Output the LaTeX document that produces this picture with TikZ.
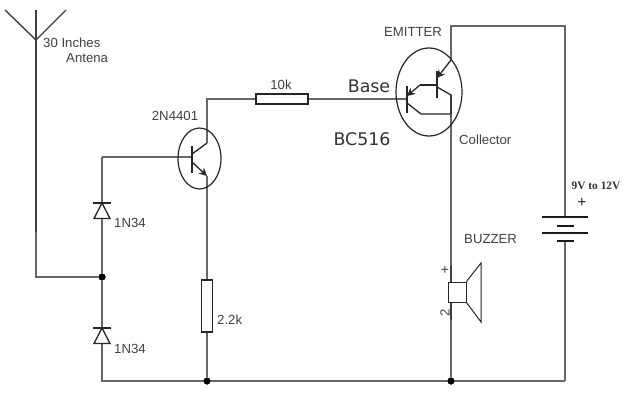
\documentclass[tikz,border=0pt]{standalone}
\usepackage{fontspec}
\setmainfont{Liberation Sans}
\newfontfamily\labelfont{DejaVu Sans}
\newfontfamily\serifbold{Liberation Serif}
\usetikzlibrary{arrows.meta,shapes.geometric}
\newcommand{\diodesym}[1]{%
  \draw[part,fill=white] (#1) -- ++(-8,15.5) -- ++(16,0) -- cycle;
  \draw[part] (#1) ++(-9,0) -- ++(18,0);
}
\newcommand{\platesym}[2]{%
  \draw[plate] (565-#2,#1) -- (565+#2,#1);
}
\begin{document}
\begin{tikzpicture}[
      x=1pt,y=-1pt,
      wire/.style={draw=black!60,line width=2.8pt},
      thinwire/.style={draw=black!75,line width=1.4pt},
      part/.style={draw=black!85,line width=1.3pt},
      plate/.style={draw=black!90,line width=2.8pt},
      can/.style={draw=black!85,line width=1.2pt,ellipse},
      txt/.style={inner sep=0pt,font=\fontsize{13.2}{15}\selectfont,text=black!75},
      big/.style={inner sep=0pt,font=\labelfont\fontsize{17.4}{19}\selectfont,text=black!80},
      rbox/.style={draw=black!85,line width=1.2pt,fill=white,inner sep=0pt},
      dot/.style={circle,fill=black,inner sep=0pt,minimum size=7pt},
      tip/.style={-{Stealth[length=8pt,width=8pt,fill=black!35]}}
    ]
      \useasboundingbox (0,0) rectangle (628,409);

      % Junctions and corners of the wiring
      \coordinate (antfoot) at (36,40);
      \coordinate (antbend) at (36,232);
      \coordinate (antend) at (36,277);
      \node[dot] (jdiode) at (102,277) {};
      \node[dot] (jres) at (207,381) {};
      \node[dot] (jspk) at (451,381) {};
      \coordinate (cleft) at (102,381);
      \coordinate (cright) at (565,381);
      \coordinate (topleft) at (102,157);
      \coordinate (basetwo) at (192,157);
      \coordinate (colltwo) at (207,99);
      \coordinate (emtop) at (451,26);
      \coordinate (battop) at (565,26);

      % Main wires
      \draw[thinwire] (36,10) -- (antbend);
      \draw[thinwire] (5,10) -- (antfoot) -- (66,10);
      \draw[wire] (antbend) -- (antend) -- (jdiode);
      \draw[wire] (topleft) -- (basetwo);
      \draw[wire] (topleft) -- (jdiode) -- (cleft) -- (cright);
      \draw[wire] (207,143) -- (colltwo) -- (282,99) -- (407,99);
      \draw[wire] (207,176) -- (jres);
      \draw[wire] (451,60) -- (emtop) -- (battop) -- (565,217);
      \draw[wire] (565,241) -- (cright);
      \draw[wire] (451,95) -- (451,266);
      \draw[wire] (451,320) -- (jspk);
      \draw[thinwire] (451,266) -- (451,282);
      \draw[thinwire] (451,302) -- (451,320);

      % Parts that are boxes, they sit on the wires so come after them
      \node[rbox,minimum width=52pt,minimum height=10pt] (rten) at (282,99) {};
      \node[rbox,minimum width=11pt,minimum height=52pt] (rtwo) at (207,306) {};
      \node[rbox,line width=0.9pt,minimum width=18pt,minimum height=20pt] (spkbox) at (457,292) {};
      \node[dot] at (jdiode) {};
      \node[dot] at (jres) {};
      \node[dot] at (jspk) {};

      % Diodes
      \diodesym{102,203}
      \diodesym{102,328}

      % Speaker cone
      \draw[part,line width=1pt] (spkbox.north east) -- (481,263) -- (481,322) -- (spkbox.south east);

      % Battery plates
      \platesym{217}{23}
      \platesym{226}{8.5}
      \platesym{233}{23}
      \platesym{241}{8.5}

      % 2N4401
      \node[can,minimum width=43pt,minimum height=61pt] (qone) at (199.5,158.5) {};
      \draw[part,line width=1.8pt] (192,146) -- (192,173);
      \draw[part] (192,154) -- (207,143);
      \draw[part,tip] (192,162) -- (207,176);

      % BC516
      \node[can,minimum width=66pt,minimum height=88pt] (qtwo) at (429,92) {};
      \draw[part,line width=1.8pt] (437,71) -- (437,98);
      \draw[part,line width=1.8pt] (407,86) -- (407,113);
      \draw[part,tip] (451,60) -- (437,78);
      \draw[part] (437,87) -- (451,95) -- (451,114);
      \draw[part,tip] (420,85) -- (407,96);
      \draw[part] (420,85) -- (437,85);
      \draw[part] (407,103) -- (421,114) -- (451,114);

      % Labels
      \node[txt,anchor=west] (lant) at (43,43) {30 Inches};
      \node[txt,anchor=west] (lanb) at (66,58) {Antena};
      \node[txt] (lq) at (175,116) {2N4401};
      \node[txt] (lr) at (281,85) {10k};
      \node[txt,anchor=west] (lda) at (114,223) {1N34};
      \node[txt,anchor=west] (ldb) at (114,349) {1N34};
      \node[txt,anchor=west] (lrb) at (217,320) {2.2k};
      \node[txt] (lem) at (413,32) {EMITTER};
      \node[txt,anchor=west] (lcol) at (459,140) {Collector};
      \node[txt,anchor=west] (lbuz) at (464,239) {BUZZER};
      \node[txt,font=\fontsize{14}{15}\selectfont] (lplus) at (445,270) {+};
      \node[txt,rotate=90] (ltwo) at (445,313) {2};
      \node[big] (lbase) at (369,86) {Base};
      \node[big] (lbc) at (362,139) {BC516};
      \node[inner sep=0pt,font=\serifbold\bfseries\fontsize{11.4}{12}\selectfont,text=black!80] (lbat) at (596,186) {9V to 12V};
      \node[inner sep=0pt,font=\serifbold\bfseries\fontsize{16}{16}\selectfont,text=black!85] (lbp) at (582,203) {+};
    \end{tikzpicture}
\end{document}
